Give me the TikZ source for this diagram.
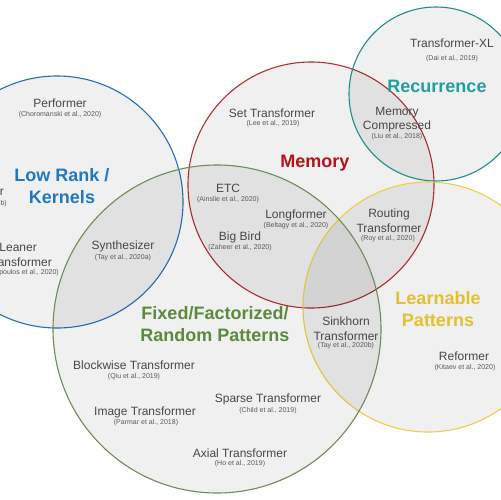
\documentclass[tikz,border=0pt]{standalone}
\usepackage{fontspec}
\setmainfont{Liberation Sans}
\definecolor{lowrank}{HTML}{2C6DB8}
\definecolor{lowranktext}{HTML}{1F78C1}
\definecolor{memory}{HTML}{B03034}
\definecolor{memorytext}{HTML}{B5121B}
\definecolor{recur}{HTML}{1F8C8C}
\definecolor{recurtext}{HTML}{1FA0A0}
\definecolor{learn}{HTML}{EFCF45}
\definecolor{learntext}{HTML}{E3C02C}
\definecolor{fixed}{HTML}{6B8C5A}
\definecolor{fixedtext}{HTML}{5A8A3A}
\begin{document}
\begin{tikzpicture}[x=1pt,y=-1pt,
    set/.style={line width=1.1pt, fill=black, fill opacity=.06},
    model/.style={font=\fontsize{12}{15}\selectfont, text=black!72, align=center, inner sep=0pt},
    cite/.style={font=\fontsize{7}{8}\selectfont, text=black!65, inner sep=0pt},
    group/.style={font=\bfseries\fontsize{18}{22}\selectfont, align=center, inner sep=0pt}]
    \fill[white] (0,0) rectangle (501,499);
    \useasboundingbox (0,0) rectangle (501,499);
    \clip (0,0) rectangle (501,499);

    % the five families
    \draw[set, draw=lowrank] (57,202) circle (126pt);
    \draw[set, draw=memory] (311,185) circle (123pt);
    \draw[set, draw=recur] (436,94) circle (87pt);
    \draw[set, draw=learn] (428,307) circle (125pt);
    \draw[set, draw=fixed] (217,329) circle (164pt);

    % group titles
    \node[group, text=lowranktext] (lowrank) at (62,186) {Low Rank /\\Kernels};
    \node[group, text=memorytext] (memory) at (315,163) {Memory};
    \node[group, text=recurtext] (recurrence) at (437,86) {Recurrence};
    \node[group, text=learntext] (learnable) at (438,309) {Learnable\\Patterns};
    \node[group, text=fixedtext] (fixed) at (215,324) {Fixed/Factorized/\\Random Patterns};

    % low rank / kernels
    \node[model] (performer) at (60,103) {Performer};
    \node[cite] (performercite) at (60,115) {(Choromanski et al., 2020)};
    \node[model, anchor=east] (linformer) at (4,191) {Linformer};
    \node[cite, anchor=east] (linformercite) at (7,204) {(Wang et al., 2020b)};
    \node[model, anchor=east] (leaner) at (37,247) {Leaner};
    \node[model, anchor=east] (leanertr) at (52,262) {Transformer};
    \node[cite, anchor=east] (leanercite) at (59,273) {(Katharopoulos et al., 2020)};
    \node[model] (synth) at (123,246) {Synthesizer};
    \node[cite] (synthcite) at (123,258) {(Tay et al., 2020a)};

    % memory
    \node[model] (settr) at (272,113) {Set Transformer};
    \node[cite] (settrcite) at (273,124) {(Lee et al., 2019)};
    \node[model] (etc) at (228,188) {ETC};
    \node[cite] (etccite) at (228,200) {(Ainslie et al., 2020)};
    \node[model] (longformer) at (296,215) {Longformer};
    \node[cite] (longformercite) at (296,226) {(Beltagy et al., 2020)};
    \node[model] (bigbird) at (240,237) {Big Bird};
    \node[cite] (bigbirdcite) at (240,248) {(Zaheer et al., 2020)};

    % recurrence
    \node[model] (trxl) at (452,43) {Transformer-XL};
    \node[cite] (trxlcite) at (452,59) {(Dai et al., 2019)};
    \node[model, font=\fontsize{12}{14}\selectfont] (memcomp) at (397,120) {Memory\\Compressed};
    \node[cite] (memcompcite) at (397,137) {(Liu et al., 2018)};

    % learnable patterns
    \node[model] (routing) at (389,220.5) {Routing\\Transformer};
    \node[cite] (routingcite) at (388,239) {(Roy et al., 2020)};
    \node[model] (sinkhorn) at (346,328.5) {Sinkhorn\\Transformer};
    \node[cite] (sinkhorncite) at (346,346) {(Tay et al., 2020b)};
    \node[model] (reformer) at (464,356) {Reformer};
    \node[cite] (reformercite) at (465,368) {(Kitaev et al., 2020)};

    % fixed / factorized / random patterns
    \node[model] (blockwise) at (134,365) {Blockwise Transformer};
    \node[cite] (blockwisecite) at (134,377) {(Qiu et al., 2019)};
    \node[model] (sparse) at (268,399) {Sparse Transformer};
    \node[cite] (sparsecite) at (268,411) {(Child et al., 2019)};
    \node[model] (image) at (145,412) {Image Transformer};
    \node[cite] (imagecite) at (146,423) {(Parmar et al., 2018)};
    \node[model] (axial) at (240,453) {Axial Transformer};
    \node[cite] (axialcite) at (240,464) {(Ho et al., 2019)};
\end{tikzpicture}
\end{document}
